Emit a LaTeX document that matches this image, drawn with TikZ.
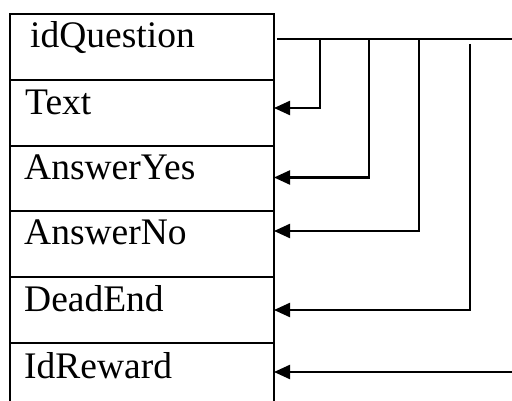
\documentclass[tikz,border=0pt]{standalone}
\usepackage{fontspec}
\setmainfont{Liberation Serif}
\usetikzlibrary{arrows.meta}
\begin{document}
\begin{tikzpicture}[x=1pt,y=-1pt,
  row/.style={minimum width=264pt, inner sep=0pt, outer sep=0pt, anchor=north west},
  lbl/.style={font=\fontsize{37.5}{41}\selectfont, anchor=base west, inner sep=0pt},
  frame/.style={line width=2.2pt},
  link/.style={line width=2.2pt, -{Triangle[length=16pt,width=14pt]}},
  keyline/.style={line width=1.1pt}]
\useasboundingbox (0,0) rectangle (512,401);

% table rows
\node[row, minimum height=66pt] (rQ) at (10,14) {};
\node[row, minimum height=66pt] (rT) at (10,80) {};
\node[row, minimum height=66pt] (rY) at (10,146) {};
\node[row, minimum height=65pt] (rN) at (10,211) {};
\node[row, minimum height=66pt] (rD) at (10,277) {};
\node[row, minimum height=58pt] (rR) at (10,343) {};

% outline, open at the bottom, and row dividers
\draw[frame] (rR.south west) |- (rQ.north east) -- (rR.south east);
\foreach \r in {rT,rY,rN,rD,rR}
  \draw[frame] (\r.north west) -- (\r.north east);

% field names
\node[lbl] (tQ) at (30,48)  {idQuestion};
\node[lbl] (tT) at (25,115) {Text};
\node[lbl] (tY) at (24,180) {AnswerYes};
\node[lbl] (tN) at (24,245) {AnswerNo};
\node[lbl] (tD) at (24,312) {DeadEnd};
\node[lbl] (tR) at (24,378) {IdReward};

% key line leaving idQuestion
\coordinate (keyL) at (277,39);
\coordinate (keyR) at (512,39);
\draw[keyline] (keyL) -- (keyR);

% taps on the key line
\coordinate (k1) at (320,40);
\coordinate (k2) at (369,40);
\coordinate (k3) at (419,40);
\coordinate (k4) at (470,44);
\coordinate (k5) at (512,372);

% arrow targets on the right edge of the rows
\coordinate (inT) at ([yshift=5pt]rT.east);
\coordinate (inY) at ([yshift=1.5pt]rY.east);
\coordinate (inN) at ([yshift=12.5pt]rN.east);
\coordinate (inD) at (rD.east);
\coordinate (inR) at (rR.east);

\draw[link] (k1) |- (inT);
\draw[link] (k2) |- (inY);
\draw[link] (k3) |- (inN);
\draw[link] (k4) |- (inD);
\draw[link] (k5) -- (inR);
\end{tikzpicture}
\end{document}
